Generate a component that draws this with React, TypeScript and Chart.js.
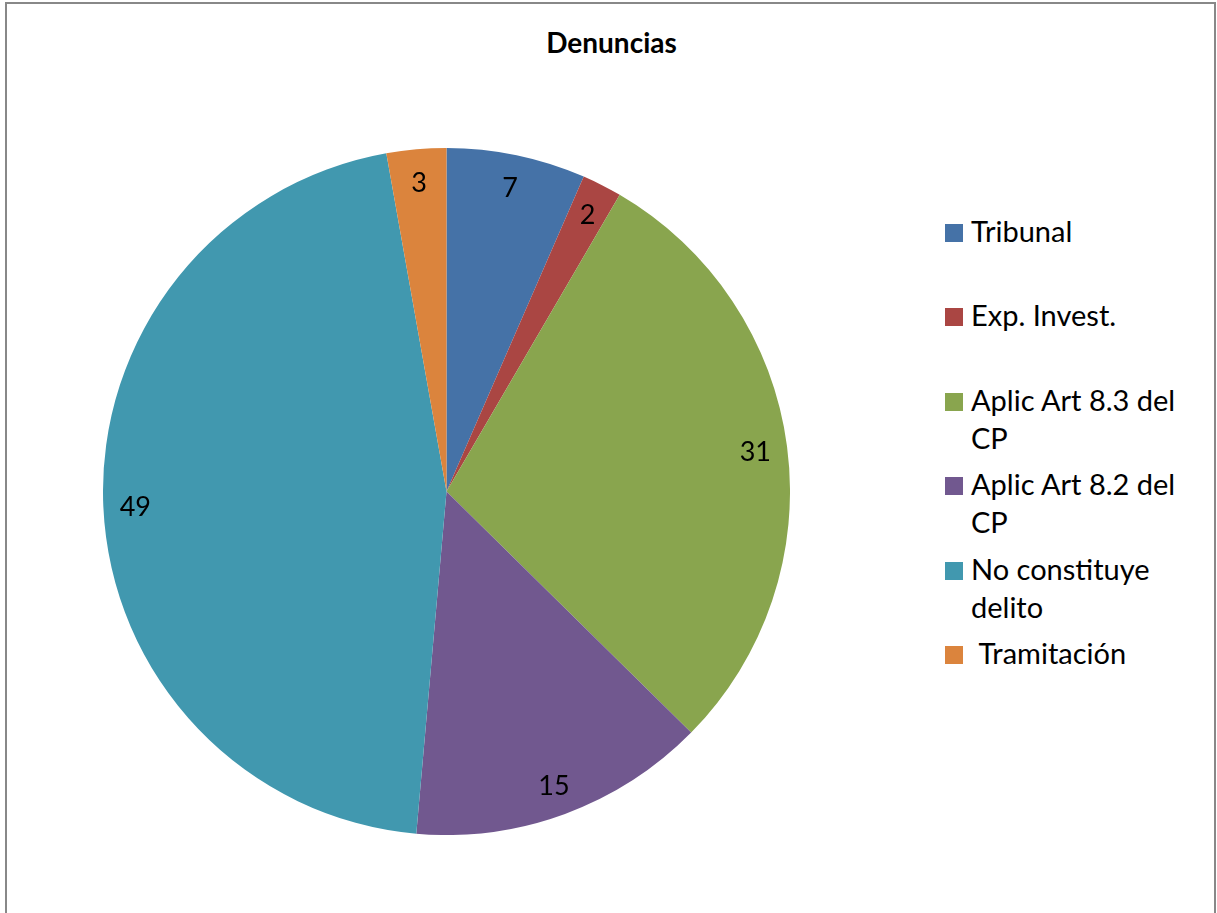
import React, { useEffect, useRef } from "react";
import { Chart, registerables } from "chart.js";

Chart.register(...registerables);

const title = "Denuncias";
const categories = [
  "Tribunal",
  "Exp. Invest.",
  "Aplic Art 8.3 del CP",
  "Aplic Art 8.2 del CP",
  "No constituye delito",
  " Tramitación",
];
const values = [7, 2, 31, 15, 49, 3];
const colors = ["#4572A7", "#AA4643", "#89A54E", "#71588F", "#4198AF", "#DB843D"];

const FONT = "Lato, 'Open Sans', sans-serif";

const labelPlugin = {
  id: "insideEndLabels",
  afterDatasetsDraw(chart: any) {
    const ctx = chart.ctx;
    const meta = chart.getDatasetMeta(0);
    const data = chart.data.datasets[0].data;
    ctx.save();
    ctx.fillStyle = "#000";
    ctx.font = `27px ${FONT}`;
    ctx.textAlign = "center";
    ctx.textBaseline = "middle";
    meta.data.forEach((arc: any, i: number) => {
      const p = arc.getProps(["x", "y", "startAngle", "endAngle", "outerRadius"], true);
      const mid = (p.startAngle + p.endAngle) / 2;
      const r = p.outerRadius - 32;
      ctx.fillText(String(data[i]), p.x + Math.cos(mid) * r, p.y + Math.sin(mid) * r + 2);
    });
    ctx.restore();
  },
};

export default function App() {
  const ref = useRef<HTMLCanvasElement | null>(null);

  useEffect(() => {
    if (!ref.current) return;
    const chart = new Chart(ref.current, {
      type: "pie",
      data: {
        labels: categories,
        datasets: [
          {
            data: values,
            backgroundColor: colors,
            borderWidth: 0,
          },
        ],
      },
      options: {
        responsive: false,
        animation: false,
        layout: { padding: 0 },
        plugins: {
          legend: { display: false },
          title: { display: false },
          tooltip: { enabled: false },
        },
      },
      plugins: [labelPlugin],
    });
    return () => chart.destroy();
  }, []);

  return (
    <div
      style={{
        position: "absolute",
        left: 0,
        top: 0,
        width: 1217,
        height: 913,
        overflow: "hidden",
        background: "#fff",
        fontFamily: FONT,
      }}
    >
      <div
        style={{
          position: "absolute",
          left: 5,
          top: 2,
          width: 1211,
          height: 1000,
          boxSizing: "border-box",
          border: "2px solid #888",
        }}
      />
      <div
        style={{
          position: "absolute",
          left: 0,
          width: 1217,
          top: 25,
          textAlign: "center",
          fontWeight: "bold",
          fontSize: 28,
          lineHeight: "34px",
          color: "#000",
        }}
      >
        <span style={{ position: "relative", left: 3 }}>{title}</span>
      </div>
      <canvas
        ref={ref}
        width={687}
        height={687}
        style={{ position: "absolute", left: 103, top: 148, width: 687, height: 687 }}
      />
      {categories.map((c, i) => (
        <div
          key={i}
          style={{ position: "absolute", left: 945, top: 224 + i * 84.4, width: 260 }}
        >
          <div
            style={{
              position: "absolute",
              left: 0,
              top: 0,
              width: 18,
              height: 18,
              background: colors[i],
            }}
          />
          <div
            style={{
              position: "absolute",
              left: 26,
              top: -12,
              width: 235,
              fontSize: 29,
              lineHeight: "38px",
              whiteSpace: "pre-wrap",
              color: "#000",
            }}
          >
            {c}
          </div>
        </div>
      ))}
    </div>
  );
}
